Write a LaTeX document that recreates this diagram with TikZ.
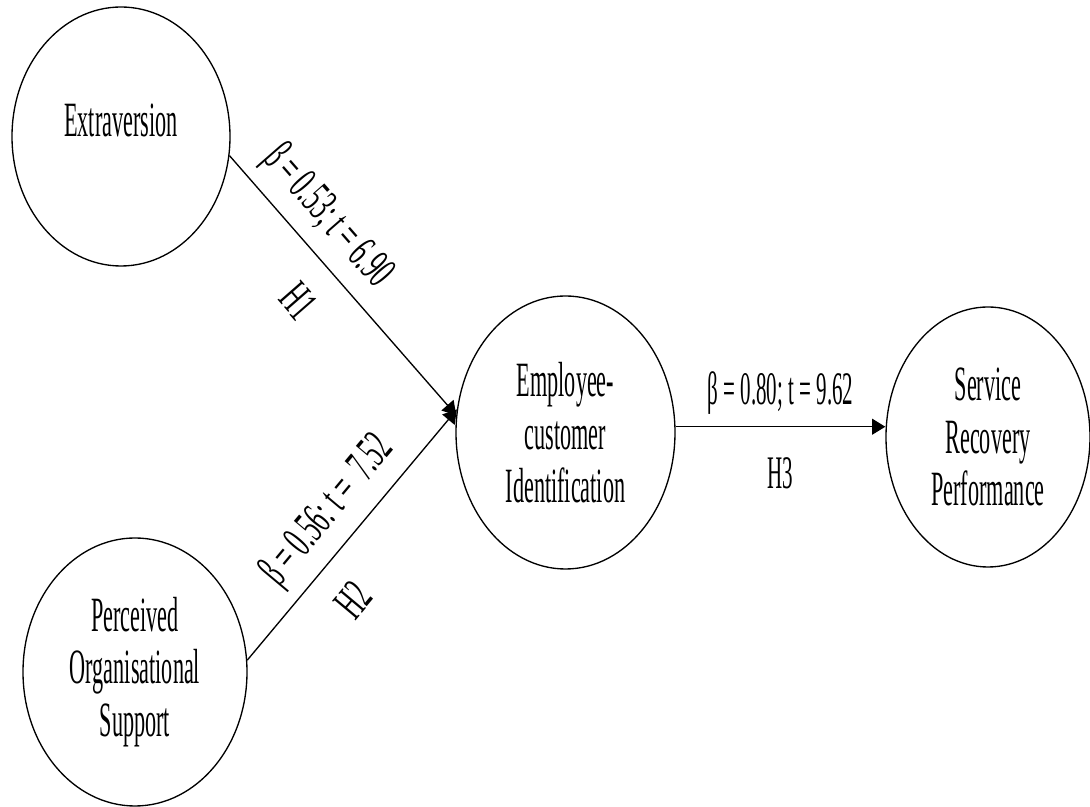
\documentclass[tikz,border=0pt]{standalone}
\usepackage{fontspec}
\setmainfont[FakeStretch=0.45]{Liberation Serif}
\newfontfamily\slopefont[FakeStretch=0.53]{Liberation Serif}
\usetikzlibrary{shapes.geometric,arrows.meta}

\tikzset{every picture/.style={line width=1pt}}
\tikzset{
  construct/.style={draw, ellipse, inner sep=0pt, align=center, font=\fontsize{37}{39.5}\selectfont},
  pathlabel/.style={font=\fontsize{35}{38}\selectfont, inner sep=0.75pt, sloped},
  slopelabel/.style={pathlabel, font=\slopefont\fontsize{35}{38}\selectfont},
  effect/.style={-{Triangle[length=10pt,width=12pt]}}
}

\begin{document}
\begin{tikzpicture}[x=0.75pt,y=0.75pt]
\useasboundingbox (0,0) rectangle (1090,807); %set diagram to 1090 x 807

%Shape: Ellipse [id:extra]
\node [construct, minimum width=163.5pt, minimum height=194.25pt, text depth=24pt] (extra) at (121,670.5) {Extraversion};
%Shape: Ellipse [id:pos]
\node [construct, minimum width=168pt, minimum height=201pt] (pos) at (135,135) {Perceived\\Organisational\\Support};
%Shape: Ellipse [id:eci]
\node [construct, minimum width=164.25pt, minimum height=204.75pt] (eci) at (565.5,374.5) {Employee-\\customer\\Identification};
%Shape: Ellipse [id:srp]
\node [construct, minimum width=153pt, minimum height=195pt] (srp) at (988,370) {Service\\Recovery\\Performance};

%Straight Lines [id:h1]
\draw [effect] (extra.-10) -- node [slopelabel, above=8pt, pos=0.32] {β = 0.53; t = 6.90} node [slopelabel, below=20pt, pos=0.45] {H1} (eci.171);
%Straight Lines [id:h2]
\draw [effect] (pos.6) -- node [slopelabel, above=8pt, pos=0.51] {β = 0.56: t = ~7.52} node [slopelabel, below=19pt, pos=0.35] {H2} (eci.168);
%Straight Lines [id:h3]
\draw [effect] (eci.3) -- node [pathlabel, above=8pt, pos=0.5] {β = 0.80; t = 9.62} node [pathlabel, below=22pt, pos=0.5] {H3} (eci.3 -| srp.west);

\end{tikzpicture}
\end{document}
